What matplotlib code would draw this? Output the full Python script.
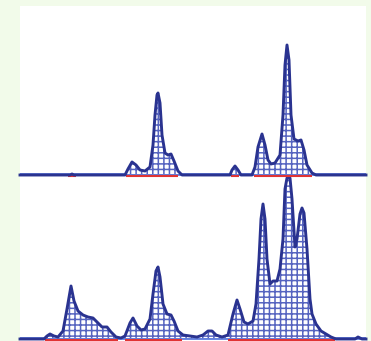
import matplotlib
matplotlib.use("Agg")
import matplotlib.pyplot as plt
from matplotlib.patches import Rectangle

plt.rcParams['hatch.linewidth'] = 1.1

# Retention position (arbitrary units) and signal height for both traces
top_x = [0, 50, 52, 54, 105, 108, 112, 116, 120, 125, 130, 133, 135, 137, 138, 140, 142, 145, 148, 151, 154, 158, 162,
         210, 212, 215, 218, 221, 232, 235, 238, 242, 245, 248, 251, 255, 260, 263, 265, 267, 269, 271, 274, 278, 281,
         284, 287, 292, 296, 346]
top_y = [0, 0, 1, 0, 0, 6, 13, 10, 5, 4, 8, 30, 60, 80, 82, 72, 40, 22, 20, 21, 14, 4, 0,
         0, 5, 9, 5, 0, 0, 8, 28, 41, 30, 15, 11, 12, 20, 60, 110, 130, 115, 60, 36, 34, 35,
         25, 10, 2, 0, 0]

bot_x = [0, 24, 27, 30, 34, 38, 43, 47, 51, 54, 58, 63, 68, 73, 77, 82, 87, 91, 96, 101, 105, 110, 113, 117, 121,
         125, 130, 133, 136, 138, 140, 143, 147, 151, 154, 158, 163, 170, 177, 183, 188, 192, 196, 202, 208, 213,
         217, 220, 224, 228, 233, 236, 239, 241, 243, 245, 247, 250, 253, 257, 260, 263, 265, 267, 270, 272, 275,
         277, 280, 282, 284, 287, 290, 292, 296, 301, 306, 311, 316, 335, 338, 342, 346]
bot_y = [0, 0, 3, 5, 3, 2, 8, 30, 53, 38, 28, 24, 22, 21, 17, 12, 12, 7, 2, 1, 3, 16, 21, 13, 9,
         10, 20, 45, 68, 72, 62, 35, 25, 24, 18, 8, 4, 3, 2, 4, 8, 8, 4, 2, 4, 25, 39, 30, 17, 15, 18,
         35, 80, 120, 135, 120, 80, 55, 58, 58, 70, 100, 150, 161, 161, 140, 92, 100, 125, 131, 126, 90, 40,
         25, 15, 8, 5, 2, 0, 0, 2, 0, 0]

# integration baseline (red) segments: start, end
top_red_start = [48, 106, 211, 234]
top_red_end = [56, 158, 219, 292]
bot_red_start = [25, 105, 208]
bot_red_end = [98, 162, 315]

BG = '#f2fbea'
LINE = '#2a3390'
HATCH = '#5664c0'
BASE = '#3f63d8'
RED = '#e03434'

W, H = 371, 341
fig = plt.figure(figsize=(W / 100, H / 100), dpi=100, facecolor=BG)
fig.patches.append(Rectangle((20 / W, 0), 346 / W, (H - 6) / H, transform=fig.transFigure,
                             facecolor='white', edgecolor='none', zorder=-10))

def px_axes(x0, y0, x1, y1):
    return fig.add_axes([x0 / W, 1 - y1 / H, (x1 - x0) / W, (y1 - y0) / H])

ax_top = px_axes(20, 6, 366, 178)
ax_bot = px_axes(20, 178, 366, 341)

def draw(ax, xs, ys, rs, re, ylim):
    ax.set_xlim(0, 346)
    ax.set_ylim(*ylim)
    ax.axis('off')
    ax.axhline(0.8, color=BASE, lw=1.8, zorder=1)
    for s, e in zip(rs, re):
        ax.plot([s, e], [-1.2, -1.2], color=RED, lw=1.5, solid_capstyle='butt', zorder=2, clip_on=False)
    ax.fill_between(xs, 0.8, ys, facecolor='white', edgecolor=HATCH, hatch='+++', lw=0, zorder=3)
    ax.plot(xs, ys, color=LINE, lw=2.1, solid_joinstyle='round', zorder=4, clip_on=False)

draw(ax_top, top_x, top_y, top_red_start, top_red_end, (-3, 169))
draw(ax_bot, bot_x, bot_y, bot_red_start, bot_red_end, (-2, 161))
ax_top.set_zorder(2)
ax_bot.set_zorder(1)

fig.savefig('out.png', dpi=100, facecolor=BG)
